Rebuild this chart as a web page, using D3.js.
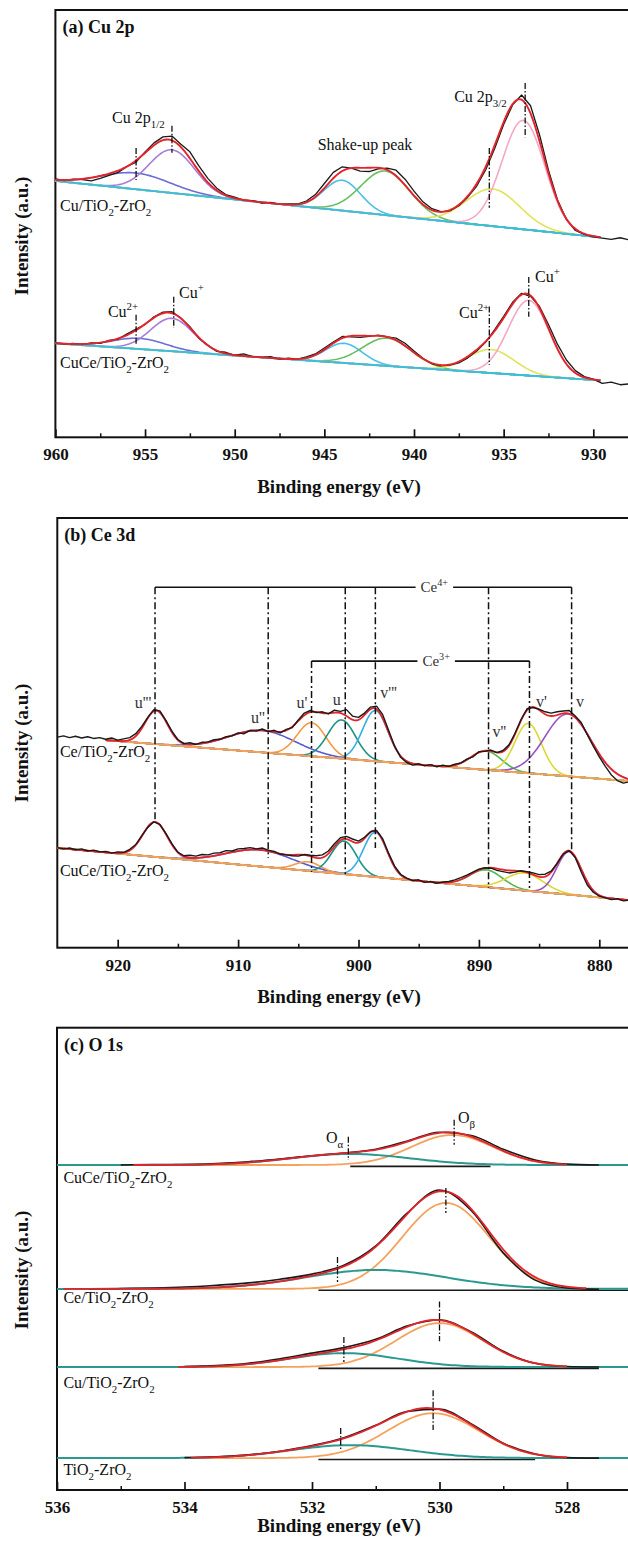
<!DOCTYPE html>
<html>
<head>
<meta charset="utf-8">
<title>XPS spectra: Cu 2p, Ce 3d, O 1s</title>
<style>
  body { margin: 0; background: #fff; }
  svg { display: block; font-family: "Liberation Serif", "Times New Roman", serif; }
</style>
</head>
<body>
<svg id="chart" width="628" height="1541"></svg>
<script src="https://cdn.jsdelivr.net/npm/d3@7/dist/d3.min.js"></script>
<script>
// ---------------- (a) Cu 2p ----------------
var cuSamples = ["Cu/TiO2-ZrO2", "CuCe/TiO2-ZrO2"];
var cuFitRange = [960, 929.6];
var cuBase = [[60.0, 46.8], [22.0, 13.3]];          // background at 960 / 929.6 eV
// fitted components [centre eV, height, FWHM eV]: Cu2+ 2p1/2, Cu+ 2p1/2, shake-up, shake-up, Cu2+ 2p3/2, Cu+ 2p3/2
var cuPeaksTop = [[955.5, 3.8, 4.5], [953.5, 10.1, 3.0], [944.0, 7.1, 2.4], [941.6, 10.3, 3.2], [935.6, 8.7, 3.5], [933.9, 25.5, 2.8]];
var cuPeaksBottom = [[955.3, 2.5, 3.5], [953.5, 7.7, 2.8], [943.9, 4.6, 2.4], [941.5, 6.5, 3.2], [935.7, 5.5, 3.0], [933.6, 17.6, 2.7]];
// measured counts, every 0.5 eV from 960 eV down
var cuRawTop = [60.5, 60.1, 60.4, 60.3, 60.0, 60.6, 61.3, 62.0, 63.4, 64.4,
  66.8, 68.9, 70.3, 70.5, 68.6, 66.8, 63.5, 60.6, 58.3, 56.8,
  56.2, 55.5, 55.4, 54.8, 55.0, 54.5, 54.6, 54.6, 55.3, 56.8,
  59.4, 62.0, 63.3, 63.0, 62.3, 62.2, 62.8, 63.0, 62.5, 60.4,
  57.6, 55.1, 53.5, 52.8, 53.0, 54.2, 56.2, 58.8, 62.6, 67.6,
  73.2, 77.8, 80.1, 77.6, 70.8, 62.5, 55.6, 51.0, 48.4, 47.5,
  46.9, 46.6, 46.3, 46.7, 46.2];
var cuRawBottom = [22.1, 21.8, 22.0, 21.7, 22.1, 22.0, 22.7, 23.0, 24.2, 25.3,
  26.4, 28.2, 29.3, 29.4, 27.9, 25.9, 23.2, 21.6, 20.1, 19.9,
  19.2, 19.5, 18.9, 18.7, 18.9, 18.3, 18.5, 18.3, 18.8, 19.5,
  20.9, 22.3, 23.6, 23.5, 23.4, 23.6, 23.9, 23.5, 23.2, 22.0,
  20.2, 18.5, 17.2, 16.7, 16.9, 17.4, 18.6, 20.2, 22.3, 25.2,
  28.3, 31.6, 33.7, 33.0, 30.6, 26.4, 21.8, 18.1, 15.6, 14.2,
  13.6, 12.6, 12.9, 12.3, 12.5];
var cuMarks = [[955.5, 67.7, 60.2], [953.5, 72.9, 66.6], [935.8, 67.7, 53.7], [933.8, 82.9, 70.2],
  [955.5, 28.7, 21.7], [953.4, 32.9, 25.6], [935.8, 30.6, 17.0], [933.6, 37.5, 28.2]];

// ---------------- (b) Ce 3d ----------------
var ceSamples = ["Ce/TiO2-ZrO2", "CuCe/TiO2-ZrO2"];
var ceFitRange = [[921, 877.5], [925, 877.5]];
var ceBase = [[[921, 48.3], [877.5, 38.77]], [[925, 23.2], [877.5, 11.07]]];
var ceNames = ["u'''", "u''", "u'", "u", "v'''", "v''", "v'", "v"];
var cePeaksTop = [[916.8, 7.8, 2.2], [908.0, 5.1, 6.5], [903.9, 7.8, 2.8], [901.4, 9.0, 2.7],
  [898.6, 11.8, 2.5], [889.4, 4.4, 3.0], [885.9, 11.6, 2.6], [882.6, 14.5, 4.5]];
var cePeaksBottom = [[916.9, 8.1, 2.4], [908.2, 3.85, 6.5], [904.2, 2.1, 2.5], [901.2, 7.7, 2.4],
  [898.6, 10.4, 2.3], [889.4, 4.0, 3.2], [886.2, 4.1, 3.6], [882.5, 10.0, 2.4]];
// measured counts, every 0.5 eV from 925 eV down to 877.5 eV
var ceRawTop = [49.0, 49.3, 48.9, 49.2, 48.8, 49.1, 48.7, 48.9, 48.5, 48.8,
  48.3, 48.6, 48.9, 49.8, 51.5, 53.6, 55.4, 55.1, 52.9, 50.4,
  48.4, 47.5, 47.7, 47.3, 47.8, 47.9, 48.4, 48.5, 49.1, 49.3,
  50.0, 49.8, 50.6, 50.4, 50.9, 50.3, 50.6, 50.0, 50.8, 51.2,
  53.0, 54.6, 55.2, 54.7, 54.9, 54.4, 55.3, 55.0, 55.4, 53.9,
  53.6, 54.6, 56.0, 56.2, 54.3, 50.6, 46.9, 44.3, 43.1, 42.5,
  42.8, 42.3, 42.6, 42.1, 42.5, 42.2, 42.7, 43.0, 43.9, 44.4,
  45.6, 45.7, 46.0, 45.4, 45.9, 47.2, 49.9, 53.1, 55.6, 55.9,
  55.5, 54.9, 54.6, 54.9, 55.1, 55.2, 53.9, 52.4, 49.6, 46.9,
  44.4, 42.2, 40.2, 38.9, 38.3, 38.6];
var ceRawBottom = [23.3, 23.0, 23.2, 22.8, 23.0, 22.5, 22.7, 22.3, 22.4, 22.0,
  22.3, 22.2, 22.9, 24.0, 26.1, 28.0, 29.3, 28.7, 26.6, 24.2,
  22.2, 21.4, 21.5, 21.3, 21.7, 21.6, 22.0, 22.1, 22.6, 22.5,
  23.0, 23.1, 23.3, 23.0, 23.2, 22.7, 22.4, 21.8, 21.6, 21.4,
  21.3, 21.7, 21.5, 21.4, 21.6, 22.5, 24.2, 25.6, 25.9, 25.3,
  24.8, 25.7, 27.0, 27.3, 25.4, 22.0, 19.0, 17.1, 16.2, 15.6,
  15.8, 15.2, 15.4, 15.0, 15.3, 15.4, 15.8, 16.3, 16.9, 17.6,
  18.3, 18.6, 18.5, 18.0, 17.7, 17.4, 17.6, 17.9, 17.7, 17.4,
  17.0, 17.1, 17.8, 19.6, 21.8, 22.6, 21.0, 17.6, 14.6, 12.9,
  12.0, 11.6, 11.2, 11.4, 10.9, 11.1];
var ce4Lines = [[916.9, 29.3], [907.5, 20.9], [901.1, 17.1], [898.6, 23.2], [889.2, 13.9], [882.3, 22.3]];
var ce3Lines = [[903.9, 17.6], [885.8, 13.9]];
var ce4Level = 83.9, ce3Level = 66.7;

// ---------------- (c) O 1s ----------------
var oSamples = ["CuCe/TiO2-ZrO2", "Ce/TiO2-ZrO2", "Cu/TiO2-ZrO2", "TiO2-ZrO2"];
var oBase = [70.3, 43.5, 26.6, 6.9];
var oBeta = [[529.8, 6.5, 1.5], [529.9, 18.6, 1.6], [530.0, 9.5, 1.6], [530.1, 9.7, 1.7]];
var oAlpha = [[531.4, 2.4, 2.2], [531.0, 4.1, 2.6], [531.5, 3.0, 2.0], [531.4, 2.8, 2.2]];
var oFitRange = [[534.8, 528.0], [535.9, 527.7], [534.1, 528.0], [533.9, 528.0]];
var oBgRange = [[531.4, 529.2], [531.9, 527.0], [531.9, 527.5], [531.9, 528.5]];
var oRawStart = [535, 535.5, 534, 534];   // measured counts every 0.5 eV from these energies
var oRaw = [
  [70.3, 70.4, 70.4, 70.6, 71.0, 71.6, 72.3, 72.9, 73.7, 75.5, 77.4, 76.7, 73.7, 71.4, 70.5, 70.3],
  [43.5, 43.6, 43.7, 43.9, 44.3, 44.8, 45.6, 46.7, 48.6, 52.8, 60.0, 64.9, 60.4, 51.3, 45.4, 43.7, 43.4],
  [26.7, 26.9, 27.4, 28.4, 29.6, 30.8, 32.6, 35.5, 36.8, 34.2, 30.0, 27.4, 26.7, 26.6],
  [7.0, 7.2, 7.6, 8.4, 9.6, 11.3, 14.0, 17.0, 17.5, 14.3, 10.1, 7.8, 7.0, 6.9]];
var oMarks = [[531.43, 76.4, 71.4], [529.77, 80.1, 74.7], [531.6, 50.4, 45.0], [529.9, 65.3, 59.9],
  [531.5, 33.1, 27.7], [530.0, 40.8, 32.2], [531.55, 13.4, 8.7], [530.1, 21.6, 13.0]];

// ---------------- drawing ----------------
var svg = d3.select("#chart");
var ink = "#111";
var W = 628;

function gauss(E, p) {
  var s = p[2] / 2.3548;
  return p[1] * Math.exp(-((E - p[0]) * (E - p[0])) / (2 * s * s));
}
function grid(a, b, step) {
  return d3.range(0, Math.round((a - b) / step) + 1).map(function (i) { return a - i * step; });
}
function rawPoints(start, vals) {
  return vals.map(function (v, i) { return [start - i * 0.5, v]; });
}
// text with sub / superscripts: parts = [[text, "sub"|"sup"|undefined], ...]
function rich(t, parts, size) {
  var shift = 0;
  parts.forEach(function (p) {
    var target = p[1] === "sub" ? size * 0.3 : p[1] === "sup" ? -size * 0.42 : 0;
    t.append("tspan").attr("dy", target - shift).attr("font-size", p[1] ? size * 0.68 : size).text(p[0]);
    shift = target;
  });
}
function label(x, y, parts, size, anchor) {
  var t = svg.append("text").attr("x", x).attr("y", y).attr("fill", ink)
    .attr("font-size", size).attr("text-anchor", anchor || "start");
  rich(t, parts, size);
  return t;
}
function chem(name) {   // "CuCe/TiO2-ZrO2" -> subscript digits
  var parts = [];
  name.split(/(2)/).forEach(function (s, i) {
    if (s === "") return;
    parts.push(s === "2" ? [s, "sub"] : [s]);
  });
  return parts;
}

function panel(o) {
  svg.append("rect").attr("x", o.left).attr("y", o.top)
    .attr("width", W + 20 - o.left).attr("height", o.bottom - o.top)
    .attr("fill", "none").attr("stroke", ink).attr("stroke-width", 2);

  var major = svg.append("g").attr("transform", "translate(0," + o.bottom + ")")
    .call(d3.axisBottom(o.x).tickValues(o.major).tickSizeInner(-8).tickSizeOuter(0)
      .tickPadding(11).tickFormat(d3.format("d")));
  major.select(".domain").remove();
  major.attr("font-family", null).attr("font-size", 17).attr("font-weight", "bold").attr("color", ink);
  major.selectAll("line").attr("stroke-width", 1.7);

  var minor = svg.append("g").attr("transform", "translate(0," + o.bottom + ")")
    .call(d3.axisBottom(o.x).tickValues(o.minor).tickSizeInner(-4).tickSizeOuter(0).tickFormat(""));
  minor.select(".domain").remove();
  minor.attr("color", ink).selectAll("line").attr("stroke-width", 1.5);

  svg.append("text").attr("x", 339).attr("y", o.bottom + o.titleGap)
    .attr("text-anchor", "middle").attr("font-size", 19).attr("font-weight", "bold").attr("fill", ink)
    .text("Binding energy (eV)");
  svg.append("text").attr("transform", "translate(28," + o.yLabel + ") rotate(-90)")
    .attr("text-anchor", "middle").attr("font-size", 19).attr("font-weight", "bold").attr("fill", ink)
    .text("Intensity (a.u.)");
  svg.append("text").attr("x", o.left + 7).attr("y", o.top + 23)
    .attr("font-size", 18).attr("font-weight", "bold").attr("fill", ink).text(o.title);
}

function curve(x, y, pts, color, width, gen) {
  var line = d3.line().x(function (d) { return x(d[0]); }).y(function (d) { return y(d[1]); });
  if (gen) line.curve(gen);
  svg.append("path").attr("d", line(pts)).attr("fill", "none")
    .attr("stroke", color).attr("stroke-width", width).attr("stroke-linejoin", "round");
}
function marker(x, y, m) {
  svg.append("line").attr("x1", x(m[0])).attr("x2", x(m[0])).attr("y1", y(m[1])).attr("y2", y(m[2]))
    .attr("stroke", ink).attr("stroke-width", 1.3).attr("stroke-dasharray", "6,2,1.5,2");
}

var red = "#e3242b", black = "#1a1a1a";

// ===== (a) =====
var xa = d3.scaleLinear().domain([960, 930]).range([55.4, 593.3]);
var ya = d3.scaleLinear().domain([0, 100]).range([437.3, 10]);
panel({ x: xa, left: 55.4, top: 10, bottom: 437.3, title: "(a) Cu 2p", yLabel: 236, titleGap: 56,
  major: [960, 955, 950, 945, 940, 935, 930], minor: [957.5, 952.5, 947.5, 942.5, 937.5, 932.5] });

var cuColors = ["#6d6dd3", "#a77dd8", "#4bbfe9", "#69be5f", "#e2e25c", "#f5a8c4"];
[cuPeaksTop, cuPeaksBottom].forEach(function (peaks, s) {
  var base = d3.scaleLinear().domain(cuFitRange).range(cuBase[s]);
  var Es = grid(cuFitRange[0], cuFitRange[1], 0.1);
  peaks.forEach(function (p, i) {
    curve(xa, ya, Es.map(function (E) { return [E, base(E) + gauss(E, p)]; }), cuColors[i], 1.6);
  });
  curve(xa, ya, Es.map(function (E) { return [E, base(E)]; }), "#3bbfd9", 2);
  curve(xa, ya, rawPoints(960, s === 0 ? cuRawTop : cuRawBottom), black, 1.3);
  curve(xa, ya, Es.map(function (E) {
    return [E, base(E) + d3.sum(peaks, function (p) { return gauss(E, p); })];
  }), red, 1.9);
});
cuMarks.forEach(function (m) { marker(xa, ya, m); });

label(xa(956.84), ya(73.6), [["Cu 2p"], ["1/2", "sub"]], 16);
label(xa(942.73), ya(67.2), [["Shake-up peak"]], 16, "middle");
label(xa(937.76), ya(78.5), [["Cu 2p"], ["3/2", "sub"]], 16);
label(xa(959.74), ya(53.0), chem(cuSamples[0]), 16);
label(xa(959.74), ya(16.2), chem(cuSamples[1]), 16);
label(xa(957.07), ya(28.2), [["Cu"], ["2+", "sup"]], 16);
label(xa(953.1), ya(32.6), [["Cu"], ["+", "sup"]], 16);
label(xa(937.49), ya(27.9), [["Cu"], ["2+", "sup"]], 16);
label(xa(933.25), ya(36.3), [["Cu"], ["+", "sup"]], 16);

// ===== (b) =====
var xb = d3.scaleLinear().domain([920, 880]).range([117.7, 599.3]);
var yb = d3.scaleLinear().domain([0, 100]).range([947.7, 518]);
panel({ x: xb, left: 57.3, top: 518, bottom: 947.7, title: "(b) Ce 3d", yLabel: 743, titleGap: 55,
  major: [920, 910, 900, 890, 880], minor: [915, 905, 895, 885] });

var ceColors = ["#f07f9c", "#5a5ad2", "#f59a45", "#1c9384", "#35aee6", "#52b852", "#d9d935", "#9a52c2"];
[cePeaksTop, cePeaksBottom].forEach(function (peaks, s) {
  var b = ceBase[s];
  var base = d3.scaleLinear().domain([b[0][0], b[1][0]]).range([b[0][1], b[1][1]]);
  var Es = grid(ceFitRange[s][0], ceFitRange[s][1], 0.1);
  peaks.forEach(function (p, i) {
    curve(xb, yb, Es.map(function (E) { return [E, base(E) + gauss(E, p)]; }), ceColors[i], 1.6);
  });
  curve(xb, yb, Es.map(function (E) { return [E, base(E)]; }), "#f4a25a", 2);
  curve(xb, yb, Es.map(function (E) {
    return [E, base(E) + d3.sum(peaks, function (p) { return gauss(E, p); })];
  }), red, 1.8);
  curve(xb, yb, rawPoints(925, s === 0 ? ceRawTop : ceRawBottom), black, 1.4);
});

// Ce4+ / Ce3+ assignment brackets
function bracket(lines, level, text, cx) {
  var t = label(xb(cx), yb(level) + 5, [["Ce"], [text, "sup"]], 15, "middle").attr("fill", "#333");
  var half = t.node().getComputedTextLength() / 2 + 5;
  var x0 = xb(lines[0][0]), x1 = xb(lines[lines.length - 1][0]);
  [[x0, xb(cx) - half], [xb(cx) + half, x1]].forEach(function (seg) {
    svg.append("line").attr("x1", seg[0]).attr("x2", seg[1]).attr("y1", yb(level)).attr("y2", yb(level))
      .attr("stroke", ink).attr("stroke-width", 1.6);
  });
  lines.forEach(function (l) {
    svg.append("line").attr("x1", xb(l[0])).attr("x2", xb(l[0])).attr("y1", yb(level)).attr("y2", yb(l[1]))
      .attr("stroke", ink).attr("stroke-width", 1.5).attr("stroke-dasharray", "7,3,2,3");
  });
}
bracket(ce4Lines, ce4Level, "4+", 893.7);
bracket(ce3Lines, ce3Level, "3+", 893.55);

var ceLabelAt = [[917.9, 55.8], [908.35, 52.3], [904.7, 55.8], [901.8, 56.5], [897.5, 58.1], [888.3, 49.0], [884.8, 56.0], [881.6, 56.0]];
ceNames.forEach(function (n, i) {
  label(xb(ceLabelAt[i][0]), yb(ceLabelAt[i][1]), [[n]], 16, "middle").attr("fill", "#333");
});
label(xb(924.8), yb(44.4), chem(ceSamples[0]), 16);
label(xb(924.8), yb(16.7), chem(ceSamples[1]), 16);

// ===== (c) =====
var xc = d3.scaleLinear().domain([536, 528]).range([57, 567]);
var yc = d3.scaleLinear().domain([0, 100]).range([1490, 1027.7]);
panel({ x: xc, left: 57, top: 1027.7, bottom: 1490, title: "(c) O 1s", yLabel: 1270, titleGap: 42,
  major: [536, 534, 532, 530, 528], minor: [535, 533, 531, 529] });

oSamples.forEach(function (name, s) {
  var b0 = oBase[s];
  var fit = grid(oFitRange[s][0], oFitRange[s][1], 0.05);
  var full = grid(536, 527, 0.05);
  curve(xc, yc, oBgRange[s].map(function (E) { return [E, b0 - 0.3]; }), black, 1.6);
  curve(xc, yc, fit.map(function (E) { return [E, b0 + gauss(E, oBeta[s])]; }), "#f5a25d", 1.8);
  curve(xc, yc, full.map(function (E) { return [E, b0 + gauss(E, oAlpha[s])]; }), "#2b9990", 2);
  curve(xc, yc, rawPoints(oRawStart[s], oRaw[s]), black, 1.6, d3.curveMonotoneX);
  curve(xc, yc, fit.map(function (E) { return [E, b0 + gauss(E, oBeta[s]) + gauss(E, oAlpha[s])]; }), red, 1.8);
});
oMarks.forEach(function (m) { marker(xc, yc, m); });

var oLabelAt = [66.4, 40.4, 22.1, 3.2];
oSamples.forEach(function (name, s) { label(xc(535.9), yc(oLabelAt[s]), chem(name), 16); });
label(xc(531.78), yc(75.1), [["O"], ["\u03b1", "sub"]], 16);
label(xc(529.71), yc(79.4), [["O"], ["\u03b2", "sub"]], 16);
</script>
</body>
</html>
